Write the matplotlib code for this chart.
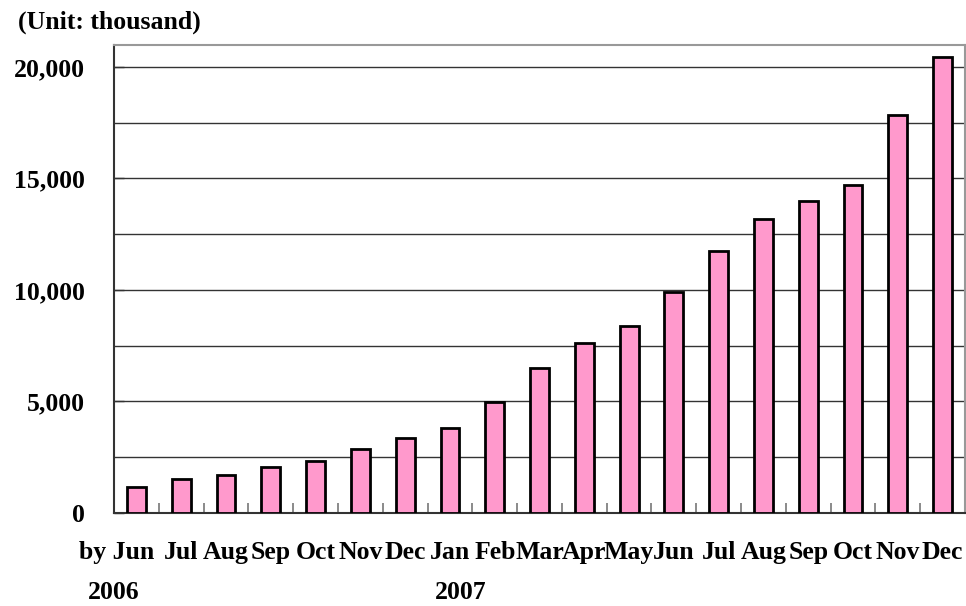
import matplotlib
matplotlib.use("Agg")
import matplotlib.pyplot as plt
import matplotlib.transforms as mtransforms
import numpy as np

# Data (unit: thousand)
Months = ["by Jun", "Jul", "Aug", "Sep", "Oct", "Nov", "Dec", "Jan", "Feb", "Mar",
          "Apr", "May", "Jun", "Jul", "Aug", "Sep", "Oct", "Nov", "Dec"]
Values = [1150, 1520, 1690, 2050, 2330, 2850, 3370, 3820, 4970, 6490,
          7640, 8380, 9890, 11760, 13190, 14010, 14730, 17850, 20440]
Years = ["2006", "2007"]
YearPos = [0, 7]
YTicks = [0, 5000, 10000, 15000, 20000]
YTickLabels = ["0", "5,000", "10,000", "15,000", "20,000"]
YGrid = [2500, 5000, 7500, 10000, 12500, 15000, 17500, 20000]

plt.rcParams["font.family"] = ["Liberation Serif", "DejaVu Serif"]
plt.rcParams["font.weight"] = "bold"

fig = plt.figure(figsize=(9.66, 6.06), dpi=100)
ax = fig.add_axes([0.118, 0.1535, 0.881, 0.772])

x = np.arange(len(Values))
ax.bar(x, Values, width=0.42, color="#FF99CC", edgecolor="black", linewidth=2.0, zorder=3)

for g in YGrid:
    ax.axhline(g, color="#333333", linewidth=1.0, zorder=1)

ax.set_xlim(-0.5, len(Values) - 0.5)
ax.set_ylim(0, 20980)

# y axis
ax.set_yticks(YTicks)
ax.set_yticklabels(YTickLabels, fontsize=18.5, fontweight="bold")
ax.tick_params(axis="y", direction="in", length=7, width=1.0, color="#333333", pad=21)

# x axis: labels at bar centres, small ticks between categories
ax.set_xticks(x)
ax.set_xticklabels(Months, fontsize=18.5, fontweight="bold")
ax.tick_params(axis="x", which="major", length=0, pad=20)
ax.set_xticks(np.arange(0.5, len(Values) - 1, 1.0), minor=True)
ax.tick_params(axis="x", which="minor", direction="in", length=7, width=1.2, color="#777777")

# shift "by Jun" so that "Jun" sits over the first bar
lab0 = ax.get_xticklabels()[0]
lab0.set_transform(lab0.get_transform() + mtransforms.ScaledTranslation(-20 / 100, 0, fig.dpi_scale_trans))

for yr, pos in zip(Years, YearPos):
    off = -0.5 if pos == 0 else 0.25
    ax.text(pos + off, -0.17, yr, transform=ax.get_xaxis_transform(),
            ha="center", va="center", fontsize=18.5, fontweight="bold")

for side in ["top", "right"]:
    ax.spines[side].set_color("#999999")
    ax.spines[side].set_linewidth(1.5)
ax.spines["left"].set_color("#333333")
ax.spines["left"].set_linewidth(1.5)
ax.spines["bottom"].set_color("#333333")
ax.spines["bottom"].set_linewidth(1.5)

fig.text(0.019, 0.963, "(Unit: thousand)", ha="left", va="center", fontsize=18.5, fontweight="bold")

fig.savefig("out.png", dpi=100)
